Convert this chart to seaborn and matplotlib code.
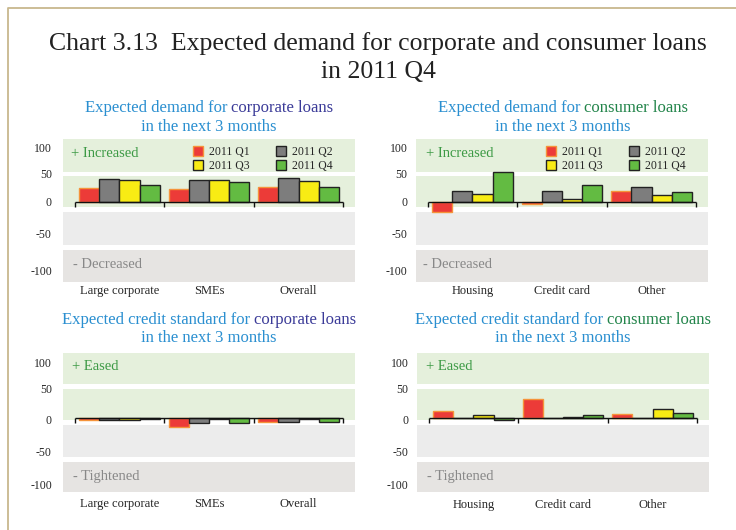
import numpy as np
import pandas as pd
import seaborn as sns
import matplotlib.pyplot as plt
from matplotlib.lines import Line2D

# data (net % of banks)
quarters = ['2011 Q1', '2011 Q2', '2011 Q3', '2011 Q4']
cats_corp = ['Large corporate', 'SMEs', 'Overall']
cats_cons = ['Housing', 'Credit card', 'Other']

demand_corp_q1 = [25, 24, 26]
demand_corp_q2 = [41, 40, 42]
demand_corp_q3 = [40, 39, 37]
demand_corp_q4 = [30, 36, 26]

demand_cons_q1 = [-18, -3, 19]
demand_cons_q2 = [19, 19, 26]
demand_cons_q3 = [15, 5, 13]
demand_cons_q4 = [53, 30, 17]

std_corp_q1 = [-4, -17, -8]
std_corp_q2 = [-4, -9, -8]
std_corp_q3 = [-4, -2, -2]
std_corp_q4 = [-3, -9, -8]

std_cons_q1 = [12, 33, 6]
std_cons_q2 = [-1, 0, 0]
std_cons_q3 = [4, 1, 16]
std_cons_q4 = [-4, 5, 8]

sns.set_style('white')
plt.rcParams['font.family'] = ['Liberation Serif', 'DejaVu Serif']

W, H = 736, 530
fig = plt.figure(figsize=(W / 100, H / 100), dpi=100)

pal = {'2011 Q1': '#ec3b38', '2011 Q2': '#7d7d7d', '2011 Q3': '#f8ec14', '2011 Q4': '#63bb42'}
edges = ['#f5943a', '#222222', '#222222', '#222222']
green_bg = '#e5f0dc'
grey1 = '#ececec'
grey2 = '#e6e4e2'
blue = '#2a8fd0'


def px_axes(x0, y0, x1, y1):
    return fig.add_axes([x0 / W, 1 - y1 / H, (x1 - x0) / W, (y1 - y0) / H])


def panel(ax, cats, series, ylim, bands, up, down, ytpos, ypad, xpad, legend):
    df = pd.DataFrame({'cat': np.tile(cats, len(quarters)),
                       'q': np.repeat(quarters, len(cats)),
                       'val': np.concatenate(series)})
    for lo, hi, c in bands:
        ax.axhspan(lo, hi, color=c, lw=0, zorder=0)
    sns.barplot(data=df, x='cat', y='val', hue='q', order=cats, hue_order=quarters,
                palette=pal, saturation=1, width=0.9, errorbar=None, legend=False, ax=ax, zorder=3)
    for cont, ec in zip(ax.containers, edges):
        for p in cont:
            p.set_edgecolor(ec)
            p.set_linewidth(1)
    ax.hlines(0, -0.5, 2.5, color='#111111', lw=1, zorder=4)
    ax.vlines([-0.5, 0.5, 1.5, 2.5], -9, 0, color='#111111', lw=1, zorder=4)
    ax.set_xlim(-0.63, 2.63)
    ax.set_ylim(*ylim)
    ax.set_yticks(ytpos, ['100', '50', '0', '-50', '-100'])
    ax.tick_params(axis='y', length=0, pad=ypad, labelsize=8.5)
    ax.tick_params(axis='x', length=0, pad=xpad, labelsize=9)
    ax.set_xlabel('')
    ax.set_ylabel('')
    for s in ax.spines.values():
        s.set_visible(False)
    tr = ax.get_yaxis_transform()
    ax.text(up[0], up[1], up[2], transform=tr, color='#3d9a45', fontsize=10.5, va='center')
    ax.text(down[0], down[1], down[2], transform=tr, color='#888888', fontsize=10.5, va='center')
    if legend:
        c = ax.containers
        ax.legend([c[0], c[2], c[1], c[3]], [quarters[0], quarters[2], quarters[1], quarters[3]],
                  loc='upper left', bbox_to_anchor=(0.42, 1.0),
                  ncol=2, frameon=False, fontsize=8.5, handlelength=0.9, handleheight=0.9,
                  handletextpad=0.5, columnspacing=2.2, labelspacing=0.2, borderaxespad=0.2)


top_ylim = (-143, 112.5)
top_bands = [(53.6, 113, green_bg), (-9, 47, green_bg), (-77, -18, grey1), (-143, -85, grey2)]
top_ticks = [98, 50, 0, -57, -122]
bot_ylim = (-133, 115.2)
bot_bands = [(59, 116, green_bg), (-4.5, 51, green_bg), (-70, -14, grey1), (-134, -79.5, grey2)]
bot_ticks = [99, 51, -4, -60, -119]

ax1 = px_axes(63, 139, 355, 282)
panel(ax1, cats_corp, [demand_corp_q1, demand_corp_q2, demand_corp_q3, demand_corp_q4],
      top_ylim, top_bands, (0.027, 87, '+ Increased'), (0.034, -111, '- Decreased'),
      top_ticks, 8, 2.5, True)

ax2 = px_axes(416, 139, 708, 282)
panel(ax2, cats_cons, [demand_cons_q1, demand_cons_q2, demand_cons_q3, demand_cons_q4],
      top_ylim, top_bands, (0.033, 87, '+ Increased'), (0.023, -111, '- Decreased'),
      top_ticks, 6, 2.5, True)

ax3 = px_axes(63, 353, 355, 492)
panel(ax3, cats_corp, [std_corp_q1, std_corp_q2, std_corp_q3, std_corp_q4],
      bot_ylim, bot_bands, (0.03, 90.7, '+ Eased'), (0.035, -105.7, '- Tightened'),
      bot_ticks, 8, 4, False)

ax4 = px_axes(417, 353, 709, 492)
panel(ax4, cats_cons, [std_cons_q1, std_cons_q2, std_cons_q3, std_cons_q4],
      bot_ylim, bot_bands, (0.03, 90.7, '+ Eased'), (0.035, -105.7, '- Tightened'),
      bot_ticks, 6, 5, False)

# titles with mixed colours
renderer = fig.canvas.get_renderer()


def color_line(xc, yc, parts, size):
    texts = [fig.text(0, 0, s, color=c, fontsize=size, ha='left', va='center') for s, c in parts]
    widths = [t.get_window_extent(renderer).width for t in texts]
    gap = size * 0.25 * 100 / 72
    x = xc - (sum(widths) + gap * (len(parts) - 1)) / 2
    for t, w in zip(texts, widths):
        t.set_position((x / W, 1 - yc / H))
        x += w + gap


color_line(209, 108, [('Expected demand for', blue), ('corporate loans', '#3b3b98')], 12)
color_line(209, 127, [('in the next 3 months', blue)], 12)
color_line(563, 108, [('Expected demand for', blue), ('consumer loans', '#22844a')], 12)
color_line(563, 127, [('in the next 3 months', blue)], 12)
color_line(209, 320, [('Expected credit standard for', blue), ('corporate loans', '#3b3b98')], 12)
color_line(209, 338, [('in the next 3 months', blue)], 12)
color_line(563, 320, [('Expected credit standard for', blue), ('consumer loans', '#22844a')], 12)
color_line(563, 338, [('in the next 3 months', blue)], 12)

fig.text(378 / W, 1 - 44 / H, 'Chart 3.13  Expected demand for corporate and consumer loans',
         ha='center', va='center', fontsize=18.5, color='#222222')
fig.text(378 / W, 1 - 72 / H, 'in 2011 Q4', ha='center', va='center', fontsize=18.5, color='#222222')

# frame
fig.add_artist(Line2D([8 / W, 8 / W, 1], [0, 1 - 8 / H, 1 - 8 / H], color='#c8b88e', lw=1.3,
                      transform=fig.transFigure))

fig.savefig('out.png', dpi=100)
